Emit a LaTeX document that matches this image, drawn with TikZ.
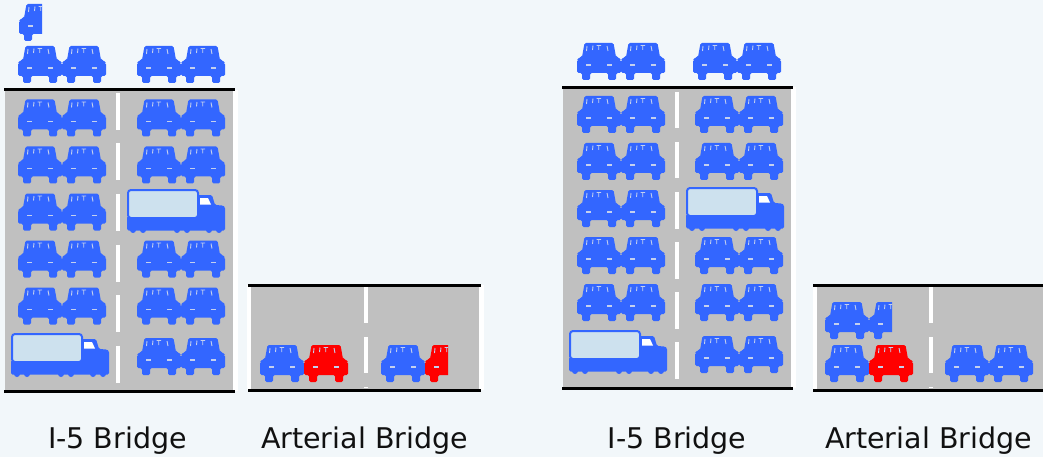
\documentclass[tikz,border=0pt]{standalone}
\usepackage{fontspec}
\setmainfont{DejaVu Sans}
\definecolor{bg}{RGB}{242,247,250}
\definecolor{carblue}{RGB}{51,102,255}
\definecolor{carred}{RGB}{255,0,0}
\definecolor{road}{RGB}{192,192,192}
\definecolor{truckbox}{RGB}{205,225,238}
\definecolor{detail}{RGB}{196,208,238}
\definecolor{labeltext}{RGB}{17,17,17}

\tikzset{
  % front view of a car, 44 x 37, origin at top-left, y pointing down
  pics/car/.style={code={
    \fill[#1, rounded corners=1.5pt]
      (5,14) -- (7.5,0) -- (36.5,0) -- (39,14) -- (42,14) -- (42.5,16.5) -- (44,17)
      -- (44,30) -- (39,30) -- (39,37) -- (31,37) -- (31,30) -- (13,30) -- (13,37)
      -- (5,37) -- (5,30) -- (0,30) -- (0,17) -- (1.5,16.5) -- (2,14) -- cycle;
    \draw[detail, line width=0.9pt]
      (10,3) -- (9.5,8)  (16,2.5) -- (15.5,7)  (19.5,2.5) -- (24,2.5)
      (21.7,2.5) -- (21.7,7)  (30,3) -- (31,8);
    \draw[detail, line width=1.3pt] (9,22) -- (14,22) (30,22) -- (35,22);
  }},
  pics/car/.default=carblue,
  % the left part of a car, cut off at its middle
  pics/partcar/.style={code={
    \begin{scope}
      \clip (-1,-1) rectangle (23,38);
      \pic at (0,0) {car=#1};
    \end{scope}
  }},
  pics/partcar/.default=carblue,
  % two cars side by side in one lane
  pics/carpair/.style={code={
    \pic at (0,0) {car};
    \pic at (44,0) {car};
  }},
  % box truck, 99 x 44
  pics/truck/.style={code={
    \fill[carblue, rounded corners=1.5pt]
      (68,6) -- (85,6) -- (88,16) -- (96,16.5) -- (98,18) -- (98,41.5)
      -- (0,41.5) -- (0,27) -- (68,27) -- cycle;
    \foreach \wx in {6,16,50,60,82,92} \fill[carblue] (\wx,41) circle (3);
    \filldraw[fill=truckbox, draw=carblue, line width=2pt, rounded corners=3pt]
      (1,1) rectangle (71,29);
    \fill[white] (73,9) -- (81,9) -- (84,15.5) -- (73,15.5) -- cycle;
  }},
  edge line/.style={black, line width=3pt},
  lane mark/.style={white, line width=4pt},
  bridge label/.style={anchor=base, text=labeltext, font=\fontsize{28.5}{34}\selectfont, inner sep=0pt},
}

\begin{document}
\begin{tikzpicture}[x=1pt, y=-1pt]
  \fill[bg] (0,0) rectangle (1043,457);
  \useasboundingbox (0,0) rectangle (1043,457);

  % ---------------- left scene: I-5 bridge ----------------
  \fill[white] (5,90) rectangle (238,391);
  \fill[road] (5,90) rectangle (233,391);
  \draw[lane mark, dash pattern=on 37pt off 13.5pt] (118,93) -- (118,389);
  \draw[edge line] (4,90) -- (235,90);
  \draw[edge line] (4,391) -- (235,391);

  \pic at (19,4) {partcar};
  \pic at (18,46) {carpair};
  \pic at (137,46) {carpair};

  \foreach \ry in {99.5,146.5,193.5,240.5,287.5} \pic at (18,\ry) {carpair};
  \pic at (11,333) {truck};

  \foreach \ry in {99.5,146.5,240.5,287.5,338} \pic at (137,\ry) {carpair};
  \pic at (127,189) {truck};

  % ---------------- left scene: arterial bridge ----------------
  \fill[white] (247,285) rectangle (484,390);
  \fill[road] (251,285) rectangle (479,390);
  \draw[lane mark, dash pattern=on 36pt off 14pt] (366,287) -- (366,388);
  \draw[edge line] (248,285) -- (481,285);
  \draw[edge line] (248,390) -- (481,390);

  \pic at (260,345) {car};
  \pic at (304,345) {car=carred};
  \pic at (381,345) {car};
  \pic at (425,345) {partcar=carred};

  \node[bridge label] (i5left) at (117.5,448) {I-5 Bridge};
  \node[bridge label] (artleft) at (364.5,448) {Arterial Bridge};

  % ---------------- right scene: I-5 bridge ----------------
  \fill[white] (563,87.5) rectangle (796,388);
  \fill[road] (563,87.5) rectangle (791,388);
  \draw[lane mark, dash pattern=on 36.5pt off 13.5pt] (677,92) -- (677,386);
  \draw[edge line] (562,87.5) -- (793,87.5);
  \draw[edge line] (562,388) -- (793,388);

  \pic at (577,43) {carpair};
  \pic at (693,43) {carpair};

  \foreach \ry in {96,143,190,237,284} \pic at (577,\ry) {carpair};
  \pic at (569,330) {truck};

  \foreach \ry in {96,143,237,284,336} \pic at (695,\ry) {carpair};
  \pic at (686,187) {truck};

  % ---------------- right scene: arterial bridge ----------------
  \fill[white] (813,285) rectangle (1043,390);
  \fill[road] (817,285) rectangle (1043,390);
  \draw[lane mark, dash pattern=on 36pt off 14pt] (931,287) -- (931,388);
  \draw[edge line] (813,285) -- (1043,285);
  \draw[edge line] (813,390) -- (1043,390);

  \pic at (825,302) {car};
  \pic at (869,302) {partcar};
  \pic at (825,345) {car};
  \pic at (869,345) {car=carred};
  \pic at (945,345) {carpair};

  \node[bridge label] (i5right) at (677,448) {I-5 Bridge};
  \node[bridge label] (artright) at (928.5,448) {Arterial Bridge};
\end{tikzpicture}
\end{document}
